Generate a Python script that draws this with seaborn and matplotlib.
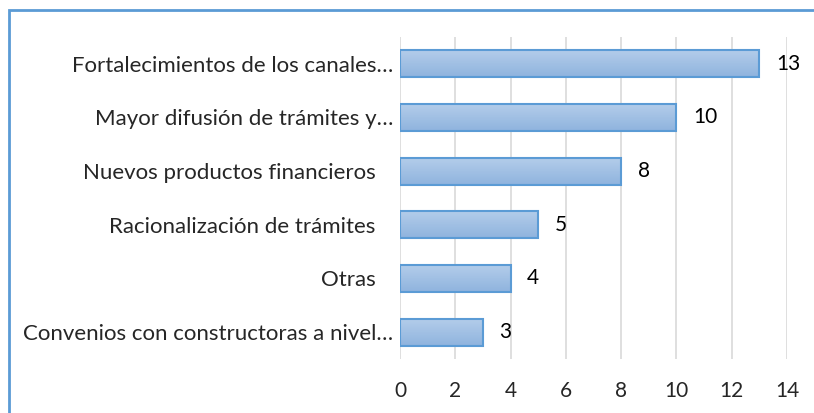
import matplotlib
matplotlib.use("Agg")
import matplotlib.pyplot as plt
import seaborn as sns
import numpy as np
import pandas as pd
from matplotlib.patches import Rectangle

# datos
categorias = [
    "Fortalecimientos de los canales…",
    "Mayor difusión de trámites y…",
    "Nuevos productos financieros   ",
    "Racionalización de trámites   ",
    "Otras   ",
    "Convenios con constructoras a nivel…",
]
valores = [13, 10, 8, 5, 4, 3]
ticks_x = [0, 2, 4, 6, 8, 10, 12, 14]

df = pd.DataFrame({"categoria": categorias, "valor": valores})

sns.set_style("white")
plt.rcParams["font.family"] = ["Lato", "DejaVu Sans"]

fig = plt.figure(figsize=(8.14, 4.13), dpi=100)
ax = fig.add_axes([0.4914, 0.1308, 0.4754, 0.7796])

sns.barplot(data=df, y="categoria", x="valor", orient="h", ax=ax,
            color="#a5c3e8", edgecolor="#5b9bd5", linewidth=1.5, width=0.5,
            zorder=3)

# degradado vertical en cada barra
grad = np.linspace(0, 1, 64).reshape(-1, 1)
cmap = matplotlib.colors.LinearSegmentedColormap.from_list("g", ["#b3cdea", "#8fb3de"])
for p in ax.patches:
    x0, y0 = p.get_x(), p.get_y()
    w, h = p.get_width(), p.get_height()
    im = ax.imshow(grad, cmap=cmap, aspect="auto", extent=(x0, x0 + w, y0 + h, y0),
                   zorder=3.5, interpolation="bilinear")
    im.set_clip_path(p)
    p.set_facecolor("none")
    p.set_zorder(4)

ax.set_xlim(0, 14)
ax.set_ylim(5.5, -0.5)
ax.set_xticks(ticks_x)
ax.set_xticklabels([str(t) for t in ticks_x], fontsize=15)
ax.tick_params(axis="x", length=0, pad=16)
ax.tick_params(axis="y", length=0, labelsize=16, pad=5)
ax.grid(axis="x", color="#d9d9d9", linewidth=1.2, zorder=0)
ax.set_xlabel("")
ax.set_ylabel("")
sns.despine(ax=ax, left=True, bottom=True)

for i, v in enumerate(valores):
    ax.text(v + 0.6, i, str(v), va="center", ha="left", fontsize=15, color="#000000")

# marco del área del gráfico
fig.patches.append(Rectangle((9 / 814, -0.1), 1.2, 1 - 10 / 413 + 0.1,
                             transform=fig.transFigure, fill=False,
                             edgecolor="#5b9bd5", linewidth=2))

fig.savefig("out.png", dpi=100)
